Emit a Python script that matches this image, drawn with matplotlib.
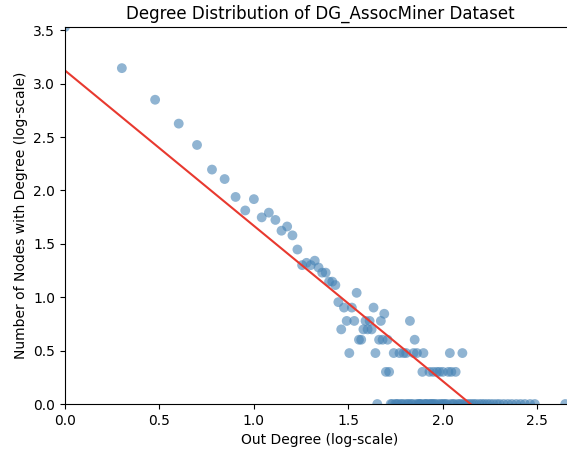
import numpy as np
import matplotlib
matplotlib.use('Agg')
import matplotlib.pyplot as plt

# out-degree -> number of nodes with that out-degree
degrees = [1, 2, 3, 4, 5, 6, 7, 8, 9, 10,
           11, 12, 13, 14, 15, 16, 17, 18, 19, 20,
           21, 22, 23, 24, 25, 26, 27, 28, 29, 30,
           31, 32, 33, 34, 35, 36, 37, 38, 39, 40,
           41, 42, 43, 44, 45, 46, 47, 48, 49, 50,
           51, 52]
counts = [3400, 1400, 708, 423, 267, 157, 128, 87, 65, 83,
          56, 62, 53, 42, 46, 38, 28, 20, 21, 20,
          22, 19, 17, 17, 14, 14, 13, 9, 5, 8,
          6, 3, 8, 6, 11, 4, 4, 5, 6, 5,
          6, 5, 8, 3, 1, 4, 6, 4, 7, 2,
          4, 2]

# higher degrees, grouped by their count
deg_count_6 = [67]
deg_count_4 = [71]
deg_count_3 = [55, 59, 62, 64, 70, 73, 79, 109, 127]
deg_count_2 = [78, 85, 89, 93, 96, 100, 107, 111, 117]
deg_count_1 = [53, 54, 56, 57, 58, 60, 61, 63, 65, 66, 68, 69, 72, 74, 75, 76,
               77, 80, 81, 82, 84, 86, 87, 88, 90, 91, 94, 97, 99, 101, 103,
               105, 110, 113, 115, 120, 123, 126, 130, 134, 138, 142, 146, 150,
               156, 161, 166, 172, 178, 185, 193, 200, 210, 221, 232, 245, 258,
               272, 290, 307, 445]

# fitted power-law line in log-log space
fit_slope = -1.455
fit_intercept = 3.124

for group, c in [(deg_count_6, 6), (deg_count_4, 4), (deg_count_3, 3),
                 (deg_count_2, 2), (deg_count_1, 1)]:
    degrees = degrees + group
    counts = counts + [c] * len(group)

x = np.log10(np.array(degrees, dtype=float))
y = np.log10(np.array(counts, dtype=float))

fig = plt.figure(figsize=(5.67, 4.5), dpi=100)
ax = fig.add_axes([65 / 567, 46 / 450, 510 / 567, 377 / 450])

ax.scatter(x, y, s=50, color='steelblue', alpha=0.6, edgecolors='none')

x_fit = np.array([0, 2.70])
ax.plot(x_fit, fit_intercept + fit_slope * x_fit, color='#e8392f', linewidth=1.5)

ax.set_xlim(0, 2.70)
ax.set_ylim(0, y.max())
ax.set_xlabel('Out Degree (log-scale)')
ax.set_ylabel('Number of Nodes with Degree (log-scale)')
ax.set_title('Degree Distribution of DG_AssocMiner Dataset')

fig.savefig('out.png', dpi=100)
